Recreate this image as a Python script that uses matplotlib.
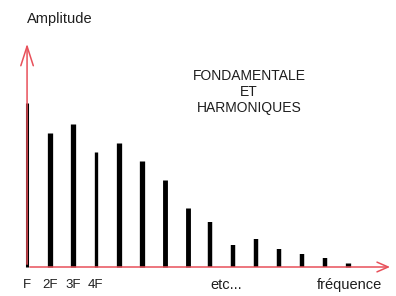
import matplotlib
matplotlib.use("Agg")
from matplotlib import pyplot as plt

# harmonic ranks and their amplitudes (arbitrary units)
rang = list(range(1, 16))
amplitude = [164, 134, 143, 115, 124, 106, 87, 59, 45, 22, 28, 18, 13, 9, 4]
largeur = [2.2, 3.8, 3.8, 2.4, 3.8, 3.8, 3.5, 3.5, 3.2, 3.2, 3.2, 3.2, 3.2, 3.2, 3.8]

labels_pos = [1, 2, 3, 4]
labels_txt = ["F", "2F", "3F", "4F"]

rouge = "#e8505a"
gris = "#1e1e1e"

plt.rcParams['font.family'] = ['Liberation Sans', 'DejaVu Sans']

fig = plt.figure(figsize=(3.96, 2.96), dpi=100)
ax = fig.add_axes([0, 0, 1, 1])
ax.set_xlim(-0.18, 17.09)
ax.set_ylim(-29, 267)
ax.axis("off")

ax.vlines(rang, 0, amplitude, colors="black", linewidths=largeur, zorder=3)

# axes with open arrow heads
ax.annotate("", xy=(16.95, 0), xytext=(1, 0),
            arrowprops=dict(arrowstyle="->,head_length=0.8,head_width=0.35",
                            color=rouge, lw=1.1))
ax.annotate("", xy=(1, 226), xytext=(1, 0),
            arrowprops=dict(arrowstyle="->,head_length=1.4,head_width=0.45",
                            color=rouge, lw=1.1))

for x, t in zip(labels_pos, labels_txt):
    ax.text(x, -18, t, ha="center", va="center", fontsize=9.5, color=gris)
ax.text(9, -18, "etc...", ha="left", va="center", fontsize=10.5, color=gris)
ax.text(15.05, -18, "fréquence", ha="center", va="center", fontsize=10.5, color=gris)

ax.text(1, 248, "Amplitude", ha="left", va="center", fontsize=10.5, color=gris)

ax.text(10.68, 175, "FONDAMENTALE\nET\nHARMONIQUES", ha="center", va="center",
        fontsize=10, color=gris, linespacing=1.2)

fig.savefig("out.png", dpi=100)
